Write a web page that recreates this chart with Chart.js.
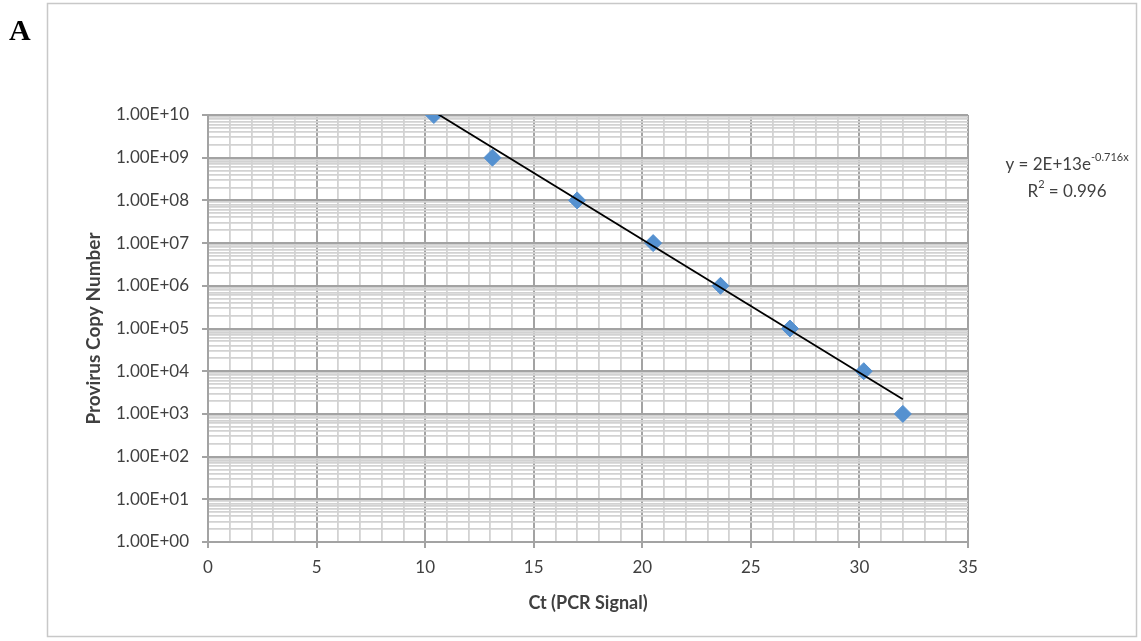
<!DOCTYPE html>
<html>
<head>
<meta charset="utf-8">
<script src="https://cdn.jsdelivr.net/npm/chart.js@4/dist/chart.umd.min.js"></script>
<style>
  html, body { margin: 0; padding: 0; background: #fff; }
  canvas { display: block; }
</style>
</head>
<body>
<canvas id="c" width="1141" height="641"></canvas>
<script>
// ---- data ----
const ctValues    = [10.4, 13.1, 17.0, 20.5, 23.6, 26.8, 30.2, 32.0];
const copyNumbers = [1e10, 1e9, 1e8, 1e7, 1e6, 1e5, 1e4, 1e3];
const trendX = [10.4, 32.0];
const trendY = [1.2e10, 2.2e3];
const yTickLabels = ['1.00E+00','1.00E+01','1.00E+02','1.00E+03','1.00E+04','1.00E+05',
                     '1.00E+06','1.00E+07','1.00E+08','1.00E+09','1.00E+10'];
const xTickLabels = ['0','5','10','15','20','25','30','35'];
const equationText = 'y = 2E+13e';
const equationExp  = '-0.716x';
const r2Text = ' = 0.996';
const panelLabel = 'A';
const xTitle = 'Ct (PCR Signal)';
const yTitle = 'Provirus Copy Number';

const FONT = 'Lato, "Open Sans", sans-serif';
const isMajorLog = v => Math.abs(Math.log10(v) - Math.round(Math.log10(v))) < 1e-9;

const decorPlugin = {
  id: 'decor',
  beforeDraw(chart) {
    const c = chart.ctx;
    c.save();
    c.fillStyle = '#fff';
    c.fillRect(0, 0, chart.width, chart.height);
    c.strokeStyle = '#c8c8c8';
    c.lineWidth = 1.5;
    c.strokeRect(47.5, 3.5, 1089, 633);
    c.restore();
  },
  afterDraw(chart) {
    const c = chart.ctx;
    c.save();
    // panel label
    c.fillStyle = '#000';
    c.font = 'bold 30px "Liberation Serif", "DejaVu Serif", serif';
    c.textBaseline = 'alphabetic';
    c.textAlign = 'left';
    c.fillText(panelLabel, 9, 40);
    // equation
    c.fillStyle = '#404040';
    const big = '17px ' + FONT, small = '11px ' + FONT;
    c.font = big;
    const w1 = c.measureText(equationText).width;
    c.font = small;
    const w2 = c.measureText(equationExp).width;
    const cx = 1067;
    let x0 = cx - (w1 + w2) / 2;
    c.font = big;
    c.fillText(equationText, x0, 170);
    c.font = small;
    c.fillText(equationExp, x0 + w1, 161);
    // R^2
    c.font = big;
    const wr = c.measureText('R').width, wv = c.measureText(r2Text).width;
    c.font = small;
    const ws = c.measureText('2').width;
    let x1 = cx - (wr + ws + wv) / 2;
    c.font = big;
    c.fillText('R', x1, 197);
    c.font = small;
    c.fillText('2', x1 + wr, 188);
    c.font = big;
    c.fillText(r2Text, x1 + wr + ws, 197);
    c.restore();
  }
};

new Chart(document.getElementById('c'), {
  type: 'scatter',
  data: {
    datasets: [
      {
        label: 'Trend',
        type: 'line',
        data: trendX.map((x, i) => ({ x, y: trendY[i] })),
        borderColor: '#000',
        borderWidth: 1.8,
        pointRadius: 0,
        fill: false,
        order: 0
      },
      {
        label: 'Standards',
        data: ctValues.map((x, i) => ({ x, y: copyNumbers[i] })),
        backgroundColor: '#5591d0',
        borderColor: '#5591d0',
        pointStyle: 'rectRot',
        pointRadius: 8.5,
        pointHoverRadius: 8.5,
        order: 1
      }
    ]
  },
  plugins: [decorPlugin],
  options: {
    responsive: false,
    animation: false,
    layout: { padding: { left: 78, right: 173, top: 115, bottom: 23 } },
    plugins: { legend: { display: false }, tooltip: { enabled: false } },
    scales: {
      x: {
        type: 'linear',
        min: 0, max: 35,
        afterFit: s => { s.height = 76; },
        ticks: {
          stepSize: 1, autoSkip: false, maxRotation: 0, padding: 9,
          color: '#404040', font: { family: FONT, size: 17 },
          callback: v => (v % 5 === 0 ? xTickLabels[v / 5] : '')
        },
        grid: {
          color: ctx => (ctx.tick && ctx.tick.value % 5 === 0 ? '#a3a3a3' : '#d2d2d2'),
          tickColor: ctx => (ctx.tick && ctx.tick.value % 5 === 0 ? '#a3a3a3' : 'rgba(0,0,0,0)'),
          tickLength: 6,
          lineWidth: ctx => (ctx.tick && ctx.tick.value % 5 === 0 ? 2 : 1.8)
        },
        border: { color: '#a3a3a3', width: 2 },
        title: {
          display: true, text: xTitle, color: '#404040',
          font: { family: FONT, size: 18, weight: 'bold' }, padding: { top: 4, bottom: 4 }
        }
      },
      y: {
        type: 'logarithmic',
        min: 1, max: 1e10,
        afterFit: s => { s.width = 130; },
        afterBuildTicks: s => {
          const t = [];
          for (let d = 0; d < 10; d++) {
            for (let m = 1; m <= 9; m++) t.push({ value: m * Math.pow(10, d) });
          }
          t.push({ value: 1e10 });
          s.ticks = t;
        },
        ticks: {
          autoSkip: false, padding: 13,
          color: '#404040', font: { family: FONT, size: 17 },
          callback: v => (isMajorLog(v) ? yTickLabels[Math.round(Math.log10(v))] : '')
        },
        grid: {
          color: ctx => (ctx.tick && isMajorLog(ctx.tick.value) ? '#a3a3a3' : '#d2d2d2'),
          tickColor: ctx => (ctx.tick && isMajorLog(ctx.tick.value) ? '#a3a3a3' : 'rgba(0,0,0,0)'),
          tickLength: 6,
          lineWidth: ctx => (ctx.tick && isMajorLog(ctx.tick.value) ? 2 : 1.8)
        },
        border: { color: '#a3a3a3', width: 2 },
        title: {
          display: true, text: yTitle, color: '#404040',
          font: { family: FONT, size: 19, weight: 'bold' }, padding: { top: 4, bottom: 4 }
        }
      }
    }
  }
});
</script>
</body>
</html>
